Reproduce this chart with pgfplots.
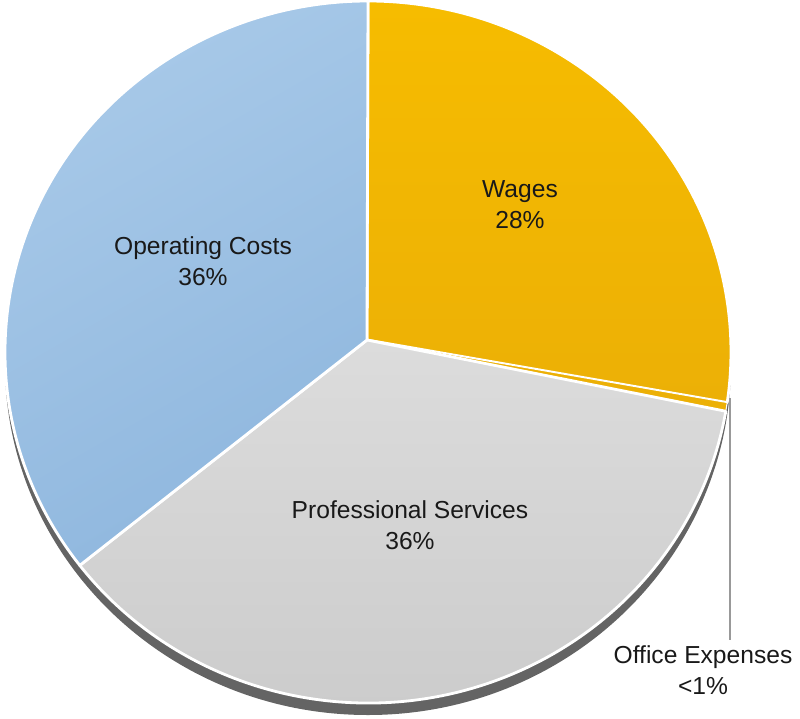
\documentclass[border=0pt]{standalone}
\usepackage{pgfplots}
\usepackage{pgfplotstable}
\pgfplotsset{compat=1.18}
\usetikzlibrary{calc}
\usepackage{fontspec}
\setmainfont{Liberation Sans}

\definecolor{wagesA}{HTML}{F6BC00}
\definecolor{wagesB}{HTML}{ECB006}
\definecolor{operA}{HTML}{A9CAE9}
\definecolor{operB}{HTML}{8FB7DE}
\definecolor{profA}{HTML}{DCDCDC}
\definecolor{profB}{HTML}{CBCBCB}
\definecolor{shadowgray}{HTML}{646464}

% share of each slice, in per cent, clockwise from the top
\pgfplotstableread{
name value
Wages 27.3
Office 0.4
Professional 36.9
Operating 35.4
}\piedata

\begin{document}
\begin{tikzpicture}
% slice boundaries (parametric angles on the ellipse)
\pgfplotstablegetelem{0}{value}\of\piedata \let\vW\pgfplotsretval
\pgfplotstablegetelem{1}{value}\of\piedata \let\vO\pgfplotsretval
\pgfplotstablegetelem{2}{value}\of\piedata \let\vP\pgfplotsretval
\pgfmathsetmacro\aA{90}
\pgfmathsetmacro\aB{\aA-3.6*\vW}
\pgfmathsetmacro\aC{\aB-3.6*\vO}
\pgfmathsetmacro\aD{\aC-3.6*\vP}
\pgfmathsetmacro\aE{\aA-360}
\def\rx{7.26cm}
\def\ry{7.02cm}
\begin{axis}[
    scale only axis,
    width=16cm, height=14.36cm,
    xmin=0, xmax=800, ymin=0, ymax=718,
    hide axis, clip=false,
]
\addplot[draw=none] coordinates {(0,0) (800,718)};
\coordinate (ll) at (axis cs:0,0);
\coordinate (ur) at (axis cs:800,718);

% shadow below the pie
\fill[shadowgray] (axis cs:368,354) ellipse[x radius=\rx, y radius=\ry];

% slices
\shade[top color=wagesA, bottom color=wagesB, draw=white, line width=1.6pt, line join=round]
  (axis cs:367,378) -- ($(axis cs:368,366)+({\rx*cos(\aA)},{\ry*sin(\aA)})$)
  arc[start angle=\aA, end angle=\aB, x radius=\rx, y radius=\ry] -- cycle;
\fill[wagesB, draw=white, line width=0.6pt]
  (axis cs:367,378) -- ($(axis cs:368,366)+({\rx*cos(\aB)},{\ry*sin(\aB)})$)
  arc[start angle=\aB, end angle=\aC, x radius=\rx, y radius=\ry] -- cycle;
\shade[top color=profA, bottom color=profB, draw=white, line width=1.6pt, line join=round]
  (axis cs:367,378) -- ($(axis cs:368,366)+({\rx*cos(\aC)},{\ry*sin(\aC)})$)
  arc[start angle=\aC, end angle=\aD, x radius=\rx, y radius=\ry] -- cycle;
\shade[top color=operA, bottom color=operB, shading angle=30, draw=white, line width=1.6pt, line join=round]
  (axis cs:367,378) -- ($(axis cs:368,366)+({\rx*cos(\aD)},{\ry*sin(\aD)})$)
  arc[start angle=\aD, end angle=\aE, x radius=\rx, y radius=\ry] -- cycle;

% leader line for the small slice
\draw[gray!80, line width=0.8pt] (axis cs:730,320) -- (axis cs:730,78);

% labels
\begin{scope}[every node/.style={align=center, font=\fontsize{14}{17.5}\selectfont, text=black!90}]
\node at (axis cs:520,513) {Wages\\28\%};
\node at (axis cs:203,457) {Operating Costs\\36\%};
\node at (axis cs:410,193) {Professional Services\\36\%};
\node at (axis cs:703,48) {Office Expenses\\<1\%};
\end{scope}
\end{axis}
\pgfresetboundingbox
\useasboundingbox (ll) rectangle (ur);
\end{tikzpicture}
\end{document}
